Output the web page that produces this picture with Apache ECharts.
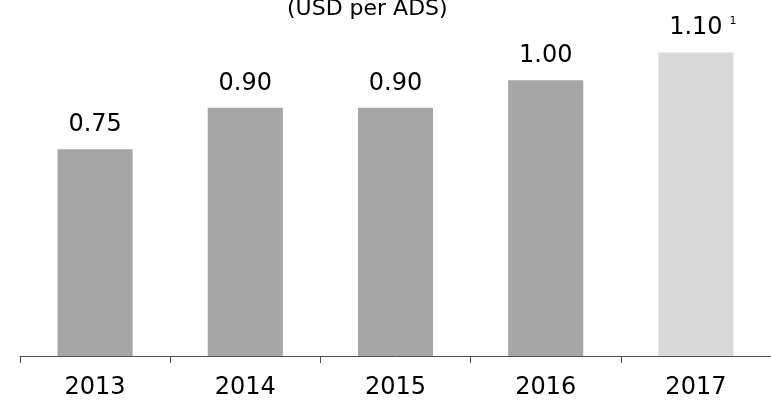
<!DOCTYPE html>
<html>
<head>
<meta charset="utf-8">
<style>
  html, body { margin: 0; padding: 0; background: #fff; }
  #chart { width: 771px; height: 401px; }
</style>
<script src="https://cdn.jsdelivr.net/npm/echarts@6/dist/echarts.min.js"></script>
</head>
<body>
<div id="chart"></div>
<script>
// 数据
var years = ['2013', '2014', '2015', '2016', '2017'];
var dividends = [0.75, 0.90, 0.90, 1.00, 1.10];
var footnotes = ['', '', '', '', '1'];
var barColors = ['#a6a6a6', '#a6a6a6', '#a6a6a6', '#a6a6a6', '#d9d9d9'];

var chart = echarts.init(document.getElementById('chart'));

var option = {
  animation: false,
  textStyle: { fontFamily: 'DejaVu Sans' },
  title: {
    text: '(USD per ADS)',
    left: 282,
    top: -7,
    textStyle: { fontSize: 22, fontWeight: 'normal', color: '#000', fontFamily: 'DejaVu Sans' }
  },
  grid: {
    left: 20,
    right: 0,
    top: 25,
    bottom: 45
  },
  xAxis: {
    type: 'category',
    data: years,
    boundaryGap: true,
    axisLine: { show: true, lineStyle: { color: '#4d4d4d', width: 1 } },
    axisTick: { show: true, alignWithLabel: false, length: 7, lineStyle: { color: '#4d4d4d', width: 1 } },
    axisLabel: { fontSize: 24, color: '#000', margin: 20 }
  },
  yAxis: {
    type: 'value',
    min: 0,
    max: 1.2,
    show: false,
    splitLine: { show: false }
  },
  series: [{
    type: 'bar',
    barWidth: '50%',
    data: dividends.map(function (v, i) {
      return { value: v, itemStyle: { color: barColors[i] } };
    }),
    label: {
      show: true,
      position: 'top',
      distance: 12,
      color: '#000',
      formatter: function (p) {
        var txt = p.value.toFixed(2);
        var fn = footnotes[p.dataIndex];
        if (fn) {
          // 上标脚注，左边补一个等宽空白使数字居中
          return '{e| }{a|' + txt + '}{s|' + fn + '}';
        }
        return '{a|' + txt + '}';
      },
      rich: {
        a: { fontSize: 24, color: '#000' },
        e: { width: 14, fontSize: 24 },
        s: { fontSize: 11, color: '#000', width: 14, align: 'right', verticalAlign: 'top', padding: [0, 0, 14, 0] }
      }
    }
  }]
};

chart.setOption(option);
</script>
</body>
</html>
